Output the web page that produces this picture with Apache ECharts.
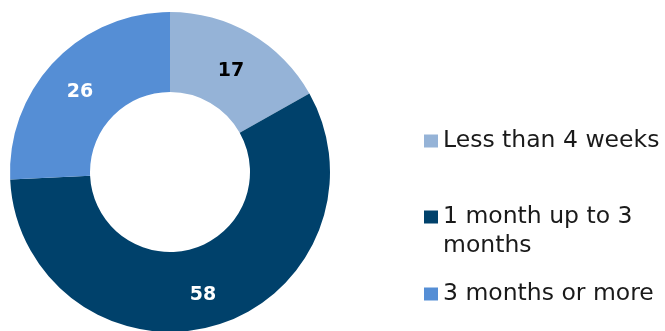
<!DOCTYPE html>
<html>
<head>
<meta charset="utf-8">
<script src="https://cdn.jsdelivr.net/npm/echarts@6/dist/echarts.min.js"></script>
<style>
  html, body { margin: 0; padding: 0; background: #ffffff; }
  #chart { width: 665px; height: 331px; }
</style>
</head>
<body>
<div id="chart"></div>
<script>
// Duration categories and their shares
const categories = ['Less than 4 weeks', '1 month up to 3 months', '3 months or more'];
const values = [17, 58, 26];
const colors = ['#95b3d7', '#00416b', '#558ed5'];
const labelColors = ['#000000', '#ffffff', '#ffffff'];

const chart = echarts.init(document.getElementById('chart'));

const fontFamily = 'DejaVu Sans, Verdana, sans-serif';
const legendFont = 23.5;
const legendLine = 29;

// One legend block per entry so each can sit at its own height
function legendFor(i, centerY, formatter) {
  const lg = {
    data: [categories[i]],
    orient: 'vertical',
    left: 424,
    top: centerY - legendLine / 2,
    padding: 0,
    itemWidth: 14,
    itemHeight: 13,
    itemGap: 0,
    icon: 'rect',
    selectedMode: false,
    textStyle: {
      fontFamily: fontFamily,
      fontSize: legendFont,
      lineHeight: legendLine,
      color: '#1a1a1a'
    }
  };
  if (formatter) {
    lg.formatter = formatter;
    // leading blank line keeps the swatch level with the first text line
    lg.top = centerY - legendLine * 1.5;
  }
  return lg;
}

chart.setOption({
  animation: false,
  color: colors,
  legend: [
    legendFor(0, 141),
    legendFor(1, 217, function () { return '\n1 month up to 3\nmonths'; }),
    legendFor(2, 294)
  ],
  series: [{
    type: 'pie',
    center: [170, 172],
    radius: [80, 160],
    startAngle: 90,
    clockwise: true,
    silent: true,
    emphasis: { disabled: true },
    label: {
      show: true,
      position: 'inside',
      formatter: '{c}',
      fontFamily: fontFamily,
      fontWeight: 'bold',
      fontSize: 19,
      offset: [-1, 5]
    },
    labelLine: { show: false },
    data: categories.map(function (name, i) {
      return {
        name: name,
        value: values[i],
        itemStyle: { color: colors[i] },
        label: { color: labelColors[i] }
      };
    })
  }]
});
</script>
</body>
</html>
